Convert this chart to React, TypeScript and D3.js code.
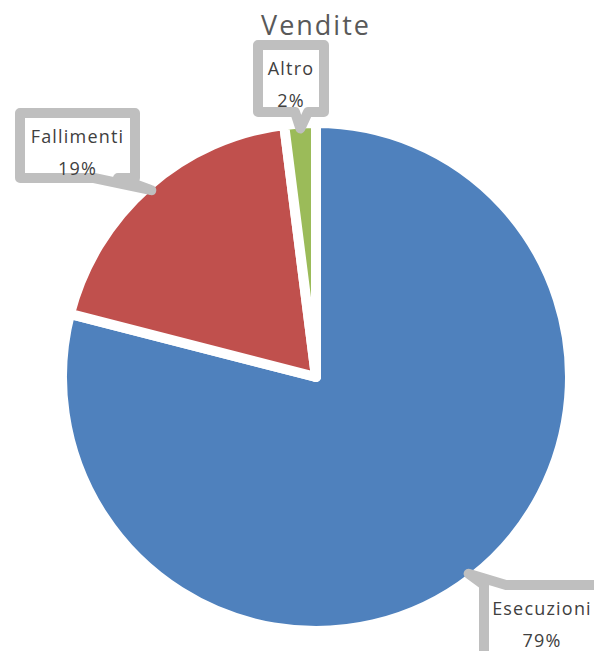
import React from 'react'
import * as d3 from 'd3'

const title = 'Vendite'
const categories = ['Esecuzioni', 'Fallimenti', 'Altro']
const values = [79, 19, 2]
const percentLabels = ['79%', '19%', '2%']
const colors = ['#4f81bd', '#c0504d', '#9bbb59']

const width = 594
const height = 651
const cx = 316
const cy = 377
const radius = 249
const border = 10

// callout boxes (stroke centre lines) and the edge the pointer leaves from
const callouts = [
    { x0: 484, y0: 585, x1: 600, y1: 665, edge: 'top', a: 484, b: 506 },
    { x0: 20, y0: 113, x1: 135, y1: 178, edge: 'bottom', a: 94, b: 118 },
    { x0: 258, y0: 45, x1: 324, y1: 112, edge: 'bottom', a: 295, b: 308 },
]

const calloutPath = (c: typeof callouts[number], tip: [number, number]) => {
    const p = d3.path()
    if (c.edge === 'top') {
        p.moveTo(c.x0, c.y1)
        p.lineTo(c.x0, c.y0)
        if (c.a > c.x0) p.lineTo(c.a, c.y0)
        p.lineTo(tip[0], tip[1])
        p.lineTo(c.b, c.y0)
        p.lineTo(c.x1, c.y0)
        p.lineTo(c.x1, c.y1)
    } else {
        p.moveTo(c.x0, c.y0)
        p.lineTo(c.x1, c.y0)
        p.lineTo(c.x1, c.y1)
        p.lineTo(c.b, c.y1)
        p.lineTo(tip[0], tip[1])
        p.lineTo(c.a, c.y1)
        p.lineTo(c.x0, c.y1)
    }
    p.closePath()
    return p.toString()
}

const App = () => {
    const pie = d3.pie<number>().sort(null).value(d => d)
    const arcs = pie(values)

    const arc = d3.arc<d3.PieArcDatum<number>>()
        .innerRadius(0)
        .outerRadius(radius + border / 2)

    const edgeArc = d3.arc<d3.PieArcDatum<number>>()
        .innerRadius(radius)
        .outerRadius(radius)

    const font = '"Open Sans", sans-serif'

    return (
        <svg width={width} height={height}
            style={{ position: 'absolute', left: 0, top: 0, background: '#fff' }}>
            <text x={cx} y={35} textAnchor="middle" fontFamily={font}
                fontSize={27} letterSpacing={2} fill="#595959">{title}</text>
            <g transform={`translate(${cx},${cy})`}>
                {arcs.map((d, i) => (
                    <path key={categories[i]} d={arc(d)!} fill={colors[i]}
                        stroke="#fff" strokeWidth={border} strokeLinejoin="round" />
                ))}
            </g>
            {arcs.map((d, i) => {
                const c = callouts[i]
                const [tx, ty] = edgeArc.centroid(d)
                const mid = (c.x0 + c.x1) / 2
                return (
                    <g key={categories[i]}>
                        <path d={calloutPath(c, [tx + cx, ty + cy])} fill="#fff"
                            stroke="#bfbfbf" strokeWidth={10} strokeLinejoin="round" />
                        <text x={mid} y={c.y0 + 30} textAnchor="middle" fontFamily={font}
                            fontSize={18} letterSpacing={1.2} fill="#404040">{categories[i]}</text>
                        <text x={mid} y={c.y0 + 62} textAnchor="middle" fontFamily={font}
                            fontSize={18} letterSpacing={1.2} fill="#404040">{percentLabels[i]}</text>
                    </g>
                )
            })}
        </svg>
    )
}

export default App
